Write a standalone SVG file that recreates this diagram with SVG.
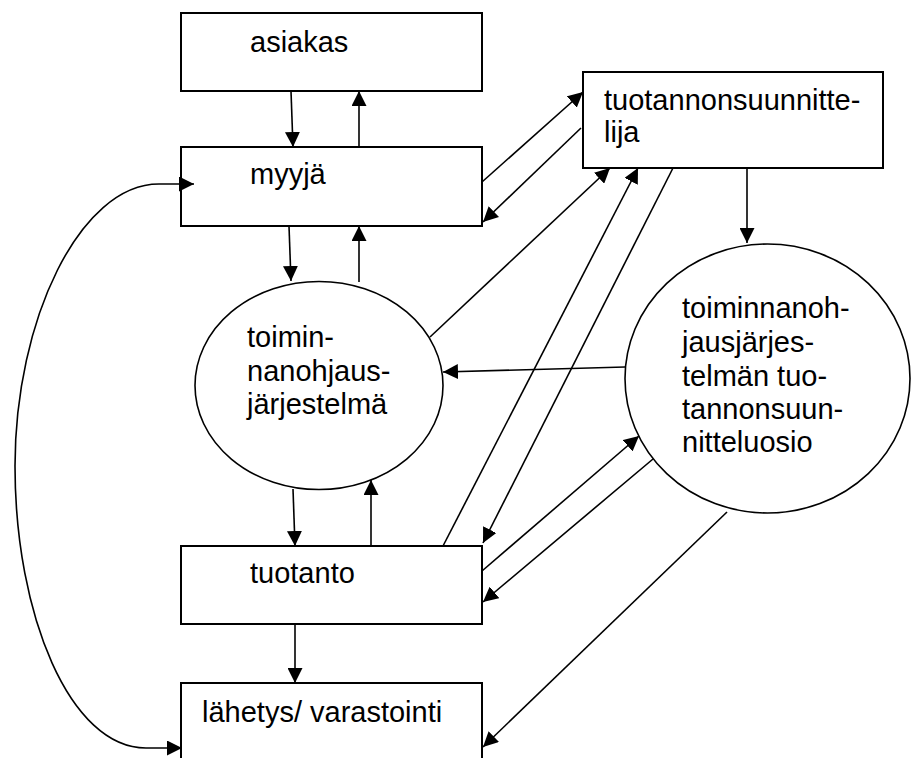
<svg xmlns="http://www.w3.org/2000/svg" width="913" height="758" viewBox="0 0 913 758">
  <style>
    .box { fill: #fff; stroke: #000; stroke-width: 2; }
    .oval { fill: #fff; stroke: #000; stroke-width: 1.6; }
    .lbl { font-family: "Liberation Sans", Arial, sans-serif; font-size: 29px; fill: #000; }
    .wire { fill: none; stroke: #000; stroke-width: 1.6; }
    .arr { marker-end: url(#ah); }
  </style>
  <defs>
    <marker id="ah" markerUnits="userSpaceOnUse" markerWidth="15" markerHeight="15" viewBox="0 0 15 15" refX="15" refY="7.5" orient="auto-start-reverse">
      <path d="M0,0 L15,7.5 L0,15 z" fill="#000"/>
    </marker>
  </defs>

  <rect width="913" height="758" fill="#fff"/>

  <g id="asiakas">
    <rect class="box" x="181" y="13" width="301" height="78"/>
    <text class="lbl" x="250" y="52">asiakas</text>
  </g>

  <g id="myyja">
    <rect class="box" x="181" y="147" width="301" height="79"/>
    <text class="lbl" x="250" y="184">myyjä</text>
  </g>

  <g id="tuotannonsuunnittelija">
    <rect class="box" x="583" y="72" width="300" height="96"/>
    <text class="lbl" x="604" y="110">tuotannonsuunnitte-</text>
    <text class="lbl" x="604" y="142">lija</text>
  </g>

  <g id="toiminnanohjausjarjestelma">
    <ellipse class="oval" cx="319" cy="385.5" rx="124" ry="104"/>
    <text class="lbl" x="247" y="347">toimin-</text>
    <text class="lbl" x="247" y="381">nanohjaus-</text>
    <text class="lbl" x="247" y="414">järjestelmä</text>
  </g>

  <g id="tuotannonsuunnitteluosio">
    <ellipse class="oval" cx="767.5" cy="378.5" rx="142.5" ry="134.5"/>
    <text class="lbl" x="682" y="318">toiminnanoh-</text>
    <text class="lbl" x="682" y="352">jausjärjes-</text>
    <text class="lbl" x="682" y="386">telmän tuo-</text>
    <text class="lbl" x="682" y="419">tannonsuun-</text>
    <text class="lbl" x="682" y="452">nitteluosio</text>
  </g>

  <g id="tuotanto">
    <rect class="box" x="181" y="546" width="301" height="78"/>
    <text class="lbl" x="250" y="583">tuotanto</text>
  </g>

  <g id="lahetys">
    <rect class="box" x="181" y="683" width="301" height="100"/>
    <text class="lbl" x="202" y="722">lähetys/ varastointi</text>
  </g>

  <g id="connectors" class="wire">
    <!-- customer / seller -->
    <path class="arr" d="M291,91 L293,147"/>
    <path class="arr" d="M359,147 L359,91"/>
    <!-- seller / ERP -->
    <path class="arr" d="M289,226 L291,281"/>
    <path class="arr" d="M359,282 L359,226"/>
    <!-- seller / production planner -->
    <path class="arr" d="M482,182 L583,92"/>
    <path class="arr" d="M581,128 L483,222"/>
    <!-- planner / planning module -->
    <path class="arr" d="M747,168 L747,243"/>
    <!-- ERP / planner -->
    <path class="arr" d="M430,337 L610,168"/>
    <!-- production / planner -->
    <path class="arr" d="M443,546 L638,168"/>
    <path class="arr" d="M673,168 L483,543"/>
    <!-- planning module / ERP -->
    <path class="arr" d="M625,367 L443,372"/>
    <!-- ERP / production -->
    <path class="arr" d="M293,489 L295,546"/>
    <path class="arr" d="M371,546 L371,480"/>
    <!-- production / planning module -->
    <path class="arr" d="M482,571 L639,436"/>
    <path class="arr" d="M653,459 L483,602"/>
    <!-- production / shipping -->
    <path class="arr" d="M295,624 L295,683"/>
    <!-- planning module / shipping -->
    <path class="arr" d="M727,512 L483,747"/>
    <!-- seller / shipping, two-headed arc -->
    <path d="M194,184 L159,184 C80,184 15,320 15,466 C15,615 70,748 146,748 L182,748" marker-start="url(#ah)" marker-end="url(#ah)"/>
  </g>
</svg>
